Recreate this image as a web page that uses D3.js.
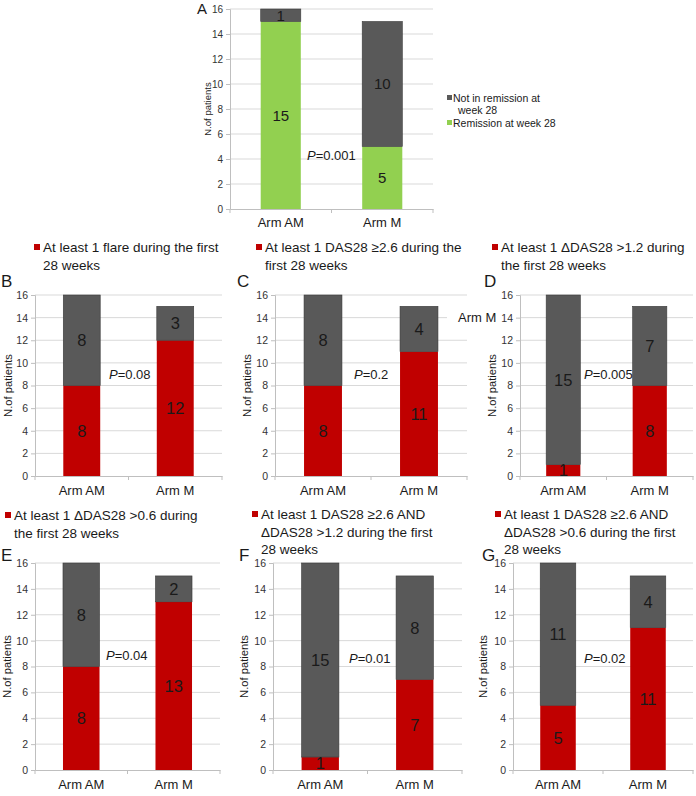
<!DOCTYPE html>
<html>
<head>
<meta charset="utf-8">
<script src="https://cdn.jsdelivr.net/npm/d3@7"></script>
<style>
  html, body { margin: 0; padding: 0; background: #fff; }
  svg { display: block; font-family: "Liberation Sans", Arial, Helvetica, sans-serif; }
</style>
</head>
<body>
<svg id="chart" width="696" height="796"></svg>
<script>
// ---------------- data ----------------
const categories = ["Arm AM", "Arm M"];
const yTicks = [0, 2, 4, 6, 8, 10, 12, 14, 16];

// Panel A
const remissionA = [15, 5];
const notRemissionA = [1, 10];
const pA = "0.001";
const legendA = ["Not in remission at", "week 28", "Remission at week 28"];

// Panels B-G: red = event, gray = no event
const eventB = [8, 12], noEventB = [8, 3];
const eventC = [8, 11], noEventC = [8, 4];
const eventD = [1, 8],  noEventD = [15, 7];
const eventE = [8, 13], noEventE = [8, 2];
const eventF = [1, 7],  noEventF = [15, 8];
const eventG = [5, 11], noEventG = [11, 4];

const pValues = { B: "0.08", C: "0.2", D: "0.005", E: "0.04", F: "0.01", G: "0.02" };

const titles = {
  B: ["At least 1 flare during the first", "28 weeks"],
  C: ["At least 1 DAS28 \u22652.6 during the", "first 28 weeks"],
  D: ["At least 1 \u0394DAS28 >1.2 during", "the first 28 weeks"],
  E: ["At least 1 \u0394DAS28 >0.6 during", "the first 28 weeks"],
  F: ["At least 1 DAS28 \u22652.6 AND", "\u0394DAS28 >1.2 during the first", "28 weeks"],
  G: ["At least 1 DAS28 \u22652.6 AND", "\u0394DAS28 >0.6 during the first", "28 weeks"]
};

// ---------------- styles ----------------
const GRAY = "#595959", GREEN = "#92d050", RED = "#c00000";
const GRID = "#d9d9d9", AXIS = "#bfbfbf", TXT = "#1a1a1a";

const svg = d3.select("#chart");

function panel(cfg) {
  const g = svg.append("g");
  const x = d3.scaleBand().domain(categories).range([cfg.x0, cfg.x1]);
  const y = d3.scaleLinear().domain([0, 16]).range([cfg.yBot, cfg.yTop]);
  const barW = x.bandwidth() * 0.395;

  // gridlines
  g.append("g").selectAll("line").data(yTicks.filter(d => d > 0)).join("line")
    .attr("x1", cfg.x0).attr("x2", cfg.x1)
    .attr("y1", d => y(d)).attr("y2", d => y(d))
    .attr("stroke", GRID).attr("stroke-width", 1);

  // y axis
  const ya = g.append("g").attr("transform", `translate(${cfg.x0},0)`)
    .call(d3.axisLeft(y).tickValues(yTicks).tickSize(4).tickPadding(3));
  ya.select(".domain").attr("stroke", AXIS);
  ya.selectAll(".tick line").attr("stroke", AXIS);
  ya.selectAll(".tick text").attr("fill", "#333").style("font-size", cfg.tickFont + "px")
    .style("font-family", "'Liberation Sans', Arial, sans-serif");

  // x axis
  const xa = g.append("g").attr("transform", `translate(0,${cfg.yBot})`)
    .call(d3.axisBottom(x).tickSize(0).tickPadding(cfg.catPad));
  xa.select(".domain").attr("stroke", AXIS);
  xa.selectAll(".tick text").attr("fill", TXT).style("font-size", cfg.catFont + "px")
    .style("font-family", "'Liberation Sans', Arial, sans-serif");
  g.append("g").selectAll("line").data([cfg.x0, (cfg.x0 + cfg.x1) / 2, cfg.x1]).join("line")
    .attr("x1", d => d).attr("x2", d => d)
    .attr("y1", cfg.yBot).attr("y2", cfg.yBot + 4)
    .attr("stroke", AXIS);

  // bars
  const rows = categories.map((c, i) => ({ c, lo: cfg.lower[i], hi: cfg.upper[i] }));
  const bars = g.append("g");
  bars.selectAll("rect.lo").data(rows).join("rect").attr("class", "lo")
    .attr("x", d => x(d.c) + (x.bandwidth() - barW) / 2).attr("width", barW)
    .attr("y", d => y(d.lo)).attr("height", d => y(0) - y(d.lo))
    .attr("fill", cfg.lowColor);
  bars.selectAll("rect.hi").data(rows).join("rect").attr("class", "hi")
    .attr("x", d => x(d.c) + (x.bandwidth() - barW) / 2).attr("width", barW)
    .attr("y", d => y(d.lo + d.hi)).attr("height", d => y(d.lo) - y(d.lo + d.hi))
    .attr("fill", GRAY).attr("stroke", "#3a3a3a").attr("stroke-width", 0.6);

  // value labels
  const vl = g.append("g").attr("text-anchor", "middle").attr("fill", TXT)
    .style("font-size", cfg.valFont + "px");
  rows.forEach(d => {
    vl.append("text").attr("x", x(d.c) + x.bandwidth() / 2).attr("y", y(d.lo / 2))
      .attr("dy", "0.36em").text(d.lo);
    vl.append("text").attr("x", x(d.c) + x.bandwidth() / 2).attr("y", y(d.lo + d.hi / 2))
      .attr("dy", "0.36em").text(d.hi);
  });

  // y label
  g.append("text")
    .attr("transform", `translate(${cfg.ylx},${(cfg.yTop + cfg.yBot) / 2}) rotate(-90)`)
    .attr("text-anchor", "middle").attr("dy", "0.35em")
    .attr("fill", TXT).style("font-size", cfg.ylFont + "px").text("N.of patients");

  // p value
  const pt = g.append("text").attr("x", cfg.px).attr("y", cfg.py)
    .attr("fill", TXT).style("font-size", "13px");
  pt.append("tspan").attr("font-style", "italic").text("P");
  pt.append("tspan").text("=" + cfg.p);

  // panel letter
  g.append("text").attr("x", cfg.lx).attr("y", cfg.ly).attr("fill", TXT)
    .style("font-size", cfg.letterFont + "px").text(cfg.letter);

  // legend title (B-G)
  if (cfg.title) {
    g.append("rect").attr("x", cfg.tx).attr("y", cfg.ty - 8).attr("width", 6).attr("height", 6)
      .attr("fill", RED);
    cfg.title.forEach((line, i) => {
      g.append("text").attr("x", cfg.tx + 9).attr("y", cfg.ty + i * 17.5)
        .attr("fill", TXT).style("font-size", "13.5px").text(line);
    });
  }
  return g;
}

// Panel A
panel({ x0: 230, x1: 433, yTop: 9, yBot: 209, lower: remissionA, upper: notRemissionA, lowColor: GREEN,
  tickFont: 10, catFont: 13, catPad: 9, valFont: 15, ylFont: 9.5, ylx: 208,
  px: 307, py: 160, p: pA, letter: "A", lx: 197, ly: 14, letterFont: 15 });

// Panel A legend
const lgA = svg.append("g").style("font-size", "10.5px").attr("fill", TXT);
lgA.append("rect").attr("x", 447).attr("y", 95).attr("width", 5).attr("height", 5).attr("fill", GRAY);
lgA.append("text").attr("x", 453).attr("y", 101.5).text(legendA[0]);
lgA.append("text").attr("x", 458).attr("y", 114).text(legendA[1]);
lgA.append("rect").attr("x", 447).attr("y", 120).attr("width", 5).attr("height", 5).attr("fill", GREEN);
lgA.append("text").attr("x", 453).attr("y", 126.5).text(legendA[2]);

const common = { lowColor: RED, tickFont: 10.5, catFont: 13, catPad: 10, valFont: 16.5, ylFont: 11.2, letterFont: 17 };

// Row 1
panel(Object.assign({}, common, { x0: 35, x1: 222, yTop: 295, yBot: 476, lower: eventB, upper: noEventB,
  ylx: 8, px: 109, py: 379, p: pValues.B, letter: "B", lx: 1, ly: 287, title: titles.B, tx: 34, ty: 252 }));
panel(Object.assign({}, common, { x0: 275, x1: 467, yTop: 295, yBot: 476, lower: eventC, upper: noEventC,
  ylx: 247, px: 354, py: 379, p: pValues.C, letter: "C", lx: 237, ly: 287, title: titles.C, tx: 256, ty: 252 }));
panel(Object.assign({}, common, { x0: 520, x1: 693, yTop: 295, yBot: 476, lower: eventD, upper: noEventD,
  ylx: 492, px: 584, py: 379, p: pValues.D, letter: "D", lx: 484, ly: 287, title: titles.D, tx: 492, ty: 252 }));

// stray label in the reference
svg.append("rect").attr("x", 447).attr("y", 309).attr("width", 52).attr("height", 16).attr("fill", "#fff");
svg.append("text").attr("x", 458).attr("y", 322).attr("fill", TXT).style("font-size", "13px").text("Arm M");

// Row 2
panel(Object.assign({}, common, { x0: 35, x1: 220, yTop: 563, yBot: 770, lower: eventE, upper: noEventE,
  ylx: 7, px: 106, py: 660, p: pValues.E, letter: "E", lx: 1, ly: 561, title: titles.E, tx: 5, ty: 520 }));
panel(Object.assign({}, common, { x0: 273, x1: 462, yTop: 563, yBot: 770, lower: eventF, upper: noEventF,
  ylx: 244, px: 349, py: 663, p: pValues.F, letter: "F", lx: 239, ly: 561, title: titles.F, tx: 252, ty: 519 }));
panel(Object.assign({}, common, { x0: 513, x1: 693, yTop: 563, yBot: 770, lower: eventG, upper: noEventG,
  ylx: 483, px: 584, py: 663, p: pValues.G, letter: "G", lx: 482, ly: 561, title: titles.G, tx: 495, ty: 519 }));
</script>
</body>
</html>
